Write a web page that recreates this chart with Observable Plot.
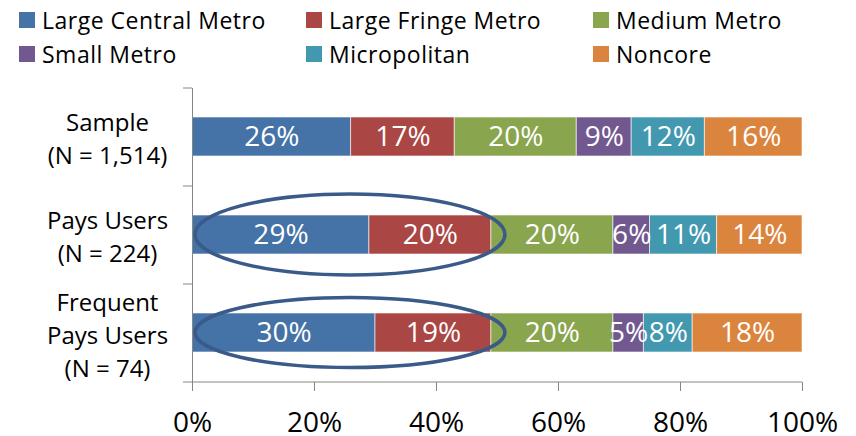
<!DOCTYPE html>
<html>
<head>
<meta charset="utf-8">
<script src="https://cdn.jsdelivr.net/npm/d3@7"></script>
<script src="https://cdn.jsdelivr.net/npm/@observablehq/plot@0.6"></script>
<style>
  body { margin: 0; background: #fff; font-family: "Open Sans", sans-serif; }
  #legend { position: relative; width: 856px; height: 75px; }
  .item { position: absolute; display: flex; align-items: center; height: 30px; line-height: 30px;
          font-size: 23px; letter-spacing: 0.5px; color: #000; white-space: nowrap; }
  .sw { width: 16px; height: 16px; margin-right: 7px; flex: none; }
  #chart svg { display: block; }
</style>
</head>
<body>
<div id="legend"></div>
<div id="chart"></div>
<script>
// Urbanization categories and their series colours
const regions = ["Large Central Metro", "Large Fringe Metro", "Medium Metro", "Small Metro", "Micropolitan", "Noncore"];
const colors = ["#4572a7", "#aa4643", "#89a54e", "#71588f", "#4198af", "#db843d"];

// Respondent groups (one bar each)
const groups = ["Sample\n(N = 1,514)", "Pays Users\n(N = 224)", "Frequent\nPays Users\n(N = 74)"];

// Share of each group per category, in percent
const sampleShares = [26, 17, 20, 9, 12, 16];
const paysShares = [29, 20, 20, 6, 11, 14];
const frequentShares = [30, 19, 20, 5, 8, 18];

const xTicks = [0, 20, 40, 60, 80, 100];

// Circled callouts: the metro share of the two user groups
const highlightGroups = [groups[1], groups[2]];
const highlightFrom = [0.5, 0.5];
const highlightTo = [51.3, 51.3];

const shareSets = [sampleShares, paysShares, frequentShares];
const rows = groups.flatMap((g, gi) =>
  shareSets[gi].map((v, i) => ({group: g, region: regions[i], share: v}))
);
const highlights = highlightGroups.map((g, i) => ({group: g, from: highlightFrom[i], to: highlightTo[i]}));

// Legend: three columns, two rows
const legend = document.getElementById("legend");
const colX = [19, 306, 593];
const rowY = [5, 39];
regions.forEach((r, i) => {
  const el = document.createElement("div");
  el.className = "item";
  el.style.left = colX[i % 3] + "px";
  el.style.top = rowY[Math.floor(i / 3)] + "px";
  const sw = document.createElement("span");
  sw.className = "sw";
  sw.style.background = colors[i];
  el.appendChild(sw);
  el.appendChild(document.createTextNode(r));
  legend.appendChild(el);
});

const W = 856, H = 361, mT = 13, mB = 54, mL = 192, mR = 54;
const step = (H - mT - mB) / groups.length;
const axisGrey = "#868686";
const ringColor = "#3a5b89";
const lastGroup = groups[groups.length - 1];

const chart = Plot.plot({
  width: W,
  height: H,
  marginTop: mT,
  marginBottom: mB,
  marginLeft: mL,
  marginRight: mR,
  style: {fontFamily: "'Open Sans', sans-serif", color: "#000", background: "#fff"},
  x: {domain: [0, 100]},
  y: {domain: groups, paddingInner: 0.6, paddingOuter: 0.3},
  color: {domain: regions, range: colors},
  marks: [
    Plot.barX(rows, {x: "share", y: "group", fill: "region", stroke: "#fff", strokeOpacity: 0.6, strokeWidth: 1}),
    Plot.text(rows, Plot.stackX({x: "share", y: "group", z: "region", text: d => d.share + "%",
      fill: "#fff", fontSize: 28})),
    Plot.barX(highlights.filter(d => d.group === groups[1]), {x1: "from", x2: "to", y: "group",
      fill: "none", stroke: ringColor, strokeWidth: 3.5, rx: 1000, ry: 1000, insetTop: -21, insetBottom: -21}),
    Plot.barX(highlights.filter(d => d.group === groups[2]), {x1: "from", x2: "to", y: "group",
      fill: "none", stroke: ringColor, strokeWidth: 3.5, rx: 1000, ry: 1000, insetTop: -15.5, insetBottom: -15.5}),
    // vertical axis line at 0%
    Plot.ruleX([0], {stroke: axisGrey}),
    // horizontal axis line along the bottom of the last band (with its boundary tick)
    Plot.ruleY([lastGroup], {y: d => d, x1: 0, x2: 100, insetLeft: -9, dy: step / 2, stroke: axisGrey}),
    // category boundary ticks on the vertical axis
    Plot.ruleY(groups, {y: d => d, x1: 0, x2: 0, insetLeft: -9, dy: -step / 2, stroke: axisGrey}),
    Plot.axisX({ticks: xTicks, tickFormat: d => d + "%", tickSize: 9, tickPadding: 21, fontSize: 28,
      stroke: axisGrey, fill: "#000", label: null}),
    Plot.axisY({tickSize: 0, tickPadding: 85, textAnchor: "middle", fontSize: 24, lineHeight: 1.375,
      fill: "#000", label: null})
  ]
});
document.getElementById("chart").appendChild(chart);
</script>
</body>
</html>
